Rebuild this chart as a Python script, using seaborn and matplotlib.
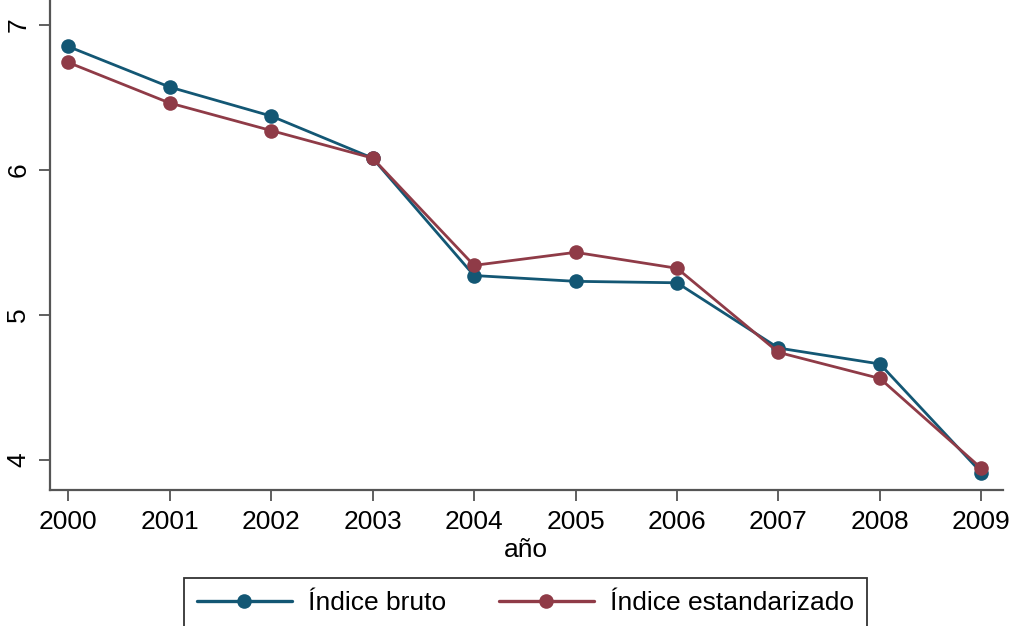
import numpy as np
import pandas as pd
import matplotlib
matplotlib.use("Agg")
import matplotlib.pyplot as plt
import seaborn as sns

years = [2000, 2001, 2002, 2003, 2004, 2005, 2006, 2007, 2008, 2009]
indice_bruto = [6.85, 6.57, 6.37, 6.08, 5.27, 5.23, 5.22, 4.77, 4.66, 3.91]
indice_estandarizado = [6.74, 6.46, 6.27, 6.08, 5.34, 5.43, 5.32, 4.74, 4.56, 3.94]
series_names = ["Índice bruto", "Índice estandarizado"]
y_ticks = [4, 5, 6, 7]

sns.set_theme(style="ticks")
plt.rcParams['font.family'] = ['Liberation Sans', 'DejaVu Sans']
plt.rcParams['text.color'] = 'black'
plt.rcParams['xtick.color'] = 'black'
plt.rcParams['ytick.color'] = 'black'
plt.rcParams['axes.labelcolor'] = 'black'

df = pd.DataFrame({
    "año": years * 2,
    "valor": indice_bruto + indice_estandarizado,
    "serie": [series_names[0]] * len(years) + [series_names[1]] * len(years),
})

fig = plt.figure(figsize=(10.16, 6.26), dpi=100)
ax = fig.add_axes([0.049, 0.217, 0.938, 0.783])

palette = {series_names[0]: "#135774", series_names[1]: "#8f3b47"}
sns.lineplot(data=df, x="año", y="valor", hue="serie", palette=palette,
             marker="o", markersize=10.5, markeredgewidth=0, linewidth=2.0,
             ax=ax, legend=True)

ax.set_xlim(1999.82, 2009.21)
ax.set_ylim(3.79, 7.17)
ax.set_xticks(years)
ax.set_xticklabels([str(y) for y in years], fontsize=19)
ax.set_yticks(y_ticks)
ax.set_yticklabels([str(t) for t in y_ticks], fontsize=19, rotation=90, va="center")
ax.set_xlabel("año", fontsize=19, labelpad=3)
ax.set_ylabel("")
ax.tick_params(axis="both", length=8, width=1.2, color="#444444", pad=6)
for s in ["top", "right"]:
    ax.spines[s].set_visible(False)
for s in ["left", "bottom"]:
    ax.spines[s].set_color("#555555")
    ax.spines[s].set_linewidth(1.6)

handles, labels = ax.get_legend_handles_labels()
ax.legend_.remove()
leg = fig.legend(handles, labels, loc="upper center", bbox_to_anchor=(0.517, 0.077),
                 borderaxespad=0, ncol=2, fontsize=19, frameon=True, fancybox=False,
                 edgecolor="black", handlelength=3.6, columnspacing=2.0,
                 borderpad=0.5, handletextpad=0.6)
leg.get_frame().set_linewidth(1.3)
for h in leg.legend_handles:
    h.set_linewidth(2.4)

fig.savefig("out.png", dpi=100)
